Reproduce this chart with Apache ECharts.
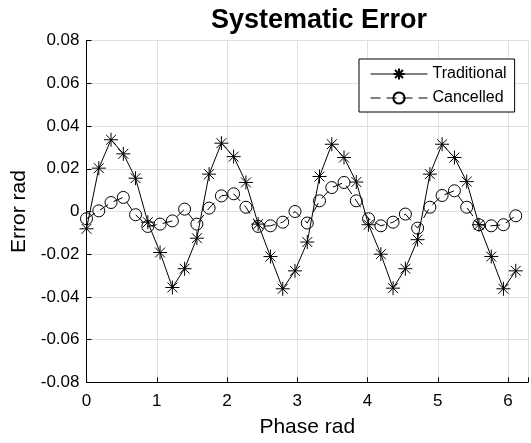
<!DOCTYPE html>
<html>
<head>
<meta charset="utf-8">
<script src="https://cdn.jsdelivr.net/npm/echarts@6/dist/echarts.min.js"></script>
<style>
  html, body { margin: 0; padding: 0; background: #fff; }
  #chart { width: 531px; height: 443px; }
</style>
</head>
<body>
<div id="chart"></div>
<script>
// phase samples, every 10 degrees (rad)
var phaseRad = [0, 0.175, 0.349, 0.524, 0.698, 0.873, 1.047, 1.222, 1.396, 1.571,
    1.745, 1.920, 2.094, 2.269, 2.443, 2.618, 2.793, 2.967, 3.142, 3.316,
    3.491, 3.665, 3.840, 4.014, 4.189, 4.363, 4.538, 4.712, 4.887, 5.061,
    5.236, 5.411, 5.585, 5.760, 5.934, 6.109];

var traditional = [-0.0081, 0.0203, 0.0336, 0.0270, 0.0156, -0.0050, -0.0192, -0.0356, -0.0268, -0.0125,
    0.0175, 0.0320, 0.0257, 0.0136, -0.0059, -0.0211, -0.0362, -0.0278, -0.0143,
    0.0164, 0.0315, 0.0253, 0.0138, -0.0062, -0.0200, -0.0359, -0.0268, -0.0132,
    0.0175, 0.0315, 0.0253, 0.0140, -0.0062, -0.0211, -0.0362, -0.0278];

var cancelled = [-0.0034, 0.0003, 0.0042, 0.0066, -0.0015, -0.0070, -0.0059, -0.0044, 0.0011, -0.0059,
    0.0016, 0.0073, 0.0083, 0.0020, -0.0070, -0.0067, -0.0050, 0.0000, -0.0054,
    0.0050, 0.0112, 0.0136, 0.0050, -0.0034, -0.0067, -0.0050, -0.0012, -0.0078,
    0.0020, 0.0075, 0.0097, 0.0020, -0.0062, -0.0067, -0.0062, -0.0020];

var xTicks = [0, 1, 2, 3, 4, 5, 6];
var yTicks = [-0.08, -0.06, -0.04, -0.02, 0, 0.02, 0.04, 0.06, 0.08];

var font = 'Liberation Sans';
var starPath = 'path://M0,-10L0,10M-10,0L10,0M-7.07,-7.07L7.07,7.07M-7.07,7.07L7.07,-7.07';

function pairs(xs, ys) {
    var out = [];
    for (var i = 0; i < xs.length; i++) {
        out.push([xs[i], ys[i]]);
    }
    return out;
}

var chart = echarts.init(document.getElementById('chart'));

var option = {
    animation: false,
    backgroundColor: '#fff',
    title: {
        text: 'Systematic Error',
        left: 314,
        top: 2,
        textAlign: 'center',
        textStyle: { fontFamily: font, fontSize: 27, fontWeight: 'bold', color: '#000' }
    },
    legend: {
        orient: 'vertical',
        left: 359,
        top: 59,
        padding: [7, 8, 6, 11],
        itemWidth: 57,
        itemHeight: 14,
        itemGap: 8,
        borderColor: '#000',
        borderWidth: 1,
        backgroundColor: '#fff',
        lineStyle: { width: 1 },
        textStyle: { fontFamily: font, fontSize: 16, color: '#000' },
        data: ['Traditional', 'Cancelled']
    },
    grid: {
        left: 86.5,
        right: -5.4,
        top: 40.7,
        bottom: 60.7,
        containLabel: false
    },
    xAxis: {
        type: 'value',
        min: 0,
        max: 2 * Math.PI,
        interval: 1,
        name: 'Phase rad',
        nameLocation: 'middle',
        nameGap: 34,
        nameTextStyle: { fontFamily: font, fontSize: 21, color: '#000' },
        axisLine: { show: true, onZero: false, lineStyle: { color: '#000', width: 1 } },
        axisTick: { inside: true, length: 5, lineStyle: { color: '#000' } },
        axisLabel: {
            fontFamily: font, fontSize: 17, color: '#000', margin: 11,
            formatter: function (v) {
                return xTicks.indexOf(v) >= 0 ? String(v) : '';
            }
        },
        splitLine: { show: true, lineStyle: { color: '#e0e0e0', width: 1 } }
    },
    yAxis: {
        type: 'value',
        min: -0.08,
        max: 0.08,
        interval: 0.02,
        name: 'Error rad',
        nameLocation: 'middle',
        nameGap: 56,
        nameRotate: 90,
        nameTextStyle: { fontFamily: font, fontSize: 21, color: '#000' },
        axisLine: { show: true, onZero: false, lineStyle: { color: '#000', width: 1 } },
        axisTick: { inside: true, length: 5, lineStyle: { color: '#000' } },
        axisLabel: {
            fontFamily: font, fontSize: 17, color: '#000', margin: 7,
            formatter: function (v) {
                var r = Math.round(v * 100) / 100;
                if (yTicks.indexOf(r) < 0) return '';
                return r === 0 ? '0' : r.toFixed(2);
            }
        },
        splitLine: { show: true, lineStyle: { color: '#e0e0e0', width: 1 } }
    },
    series: [{
        name: 'Traditional',
        type: 'line',
        data: pairs(phaseRad, traditional),
        symbol: starPath,
        symbolSize: 14,
        showAllSymbol: true,
        lineStyle: { color: '#000', width: 1 },
        itemStyle: { color: '#000', borderColor: '#000', borderWidth: 1 },
        emphasis: { disabled: true },
        z: 3
    }, {
        name: 'Cancelled',
        type: 'line',
        data: pairs(phaseRad, cancelled),
        symbol: 'circle',
        symbolSize: 12,
        showAllSymbol: true,
        lineStyle: { color: '#000', width: 1, type: [10, 6] },
        itemStyle: { color: 'rgba(0,0,0,0)', borderColor: '#000', borderWidth: 1 },
        emphasis: { disabled: true },
        z: 2
    }]
};

chart.setOption(option);
</script>
</body>
</html>
